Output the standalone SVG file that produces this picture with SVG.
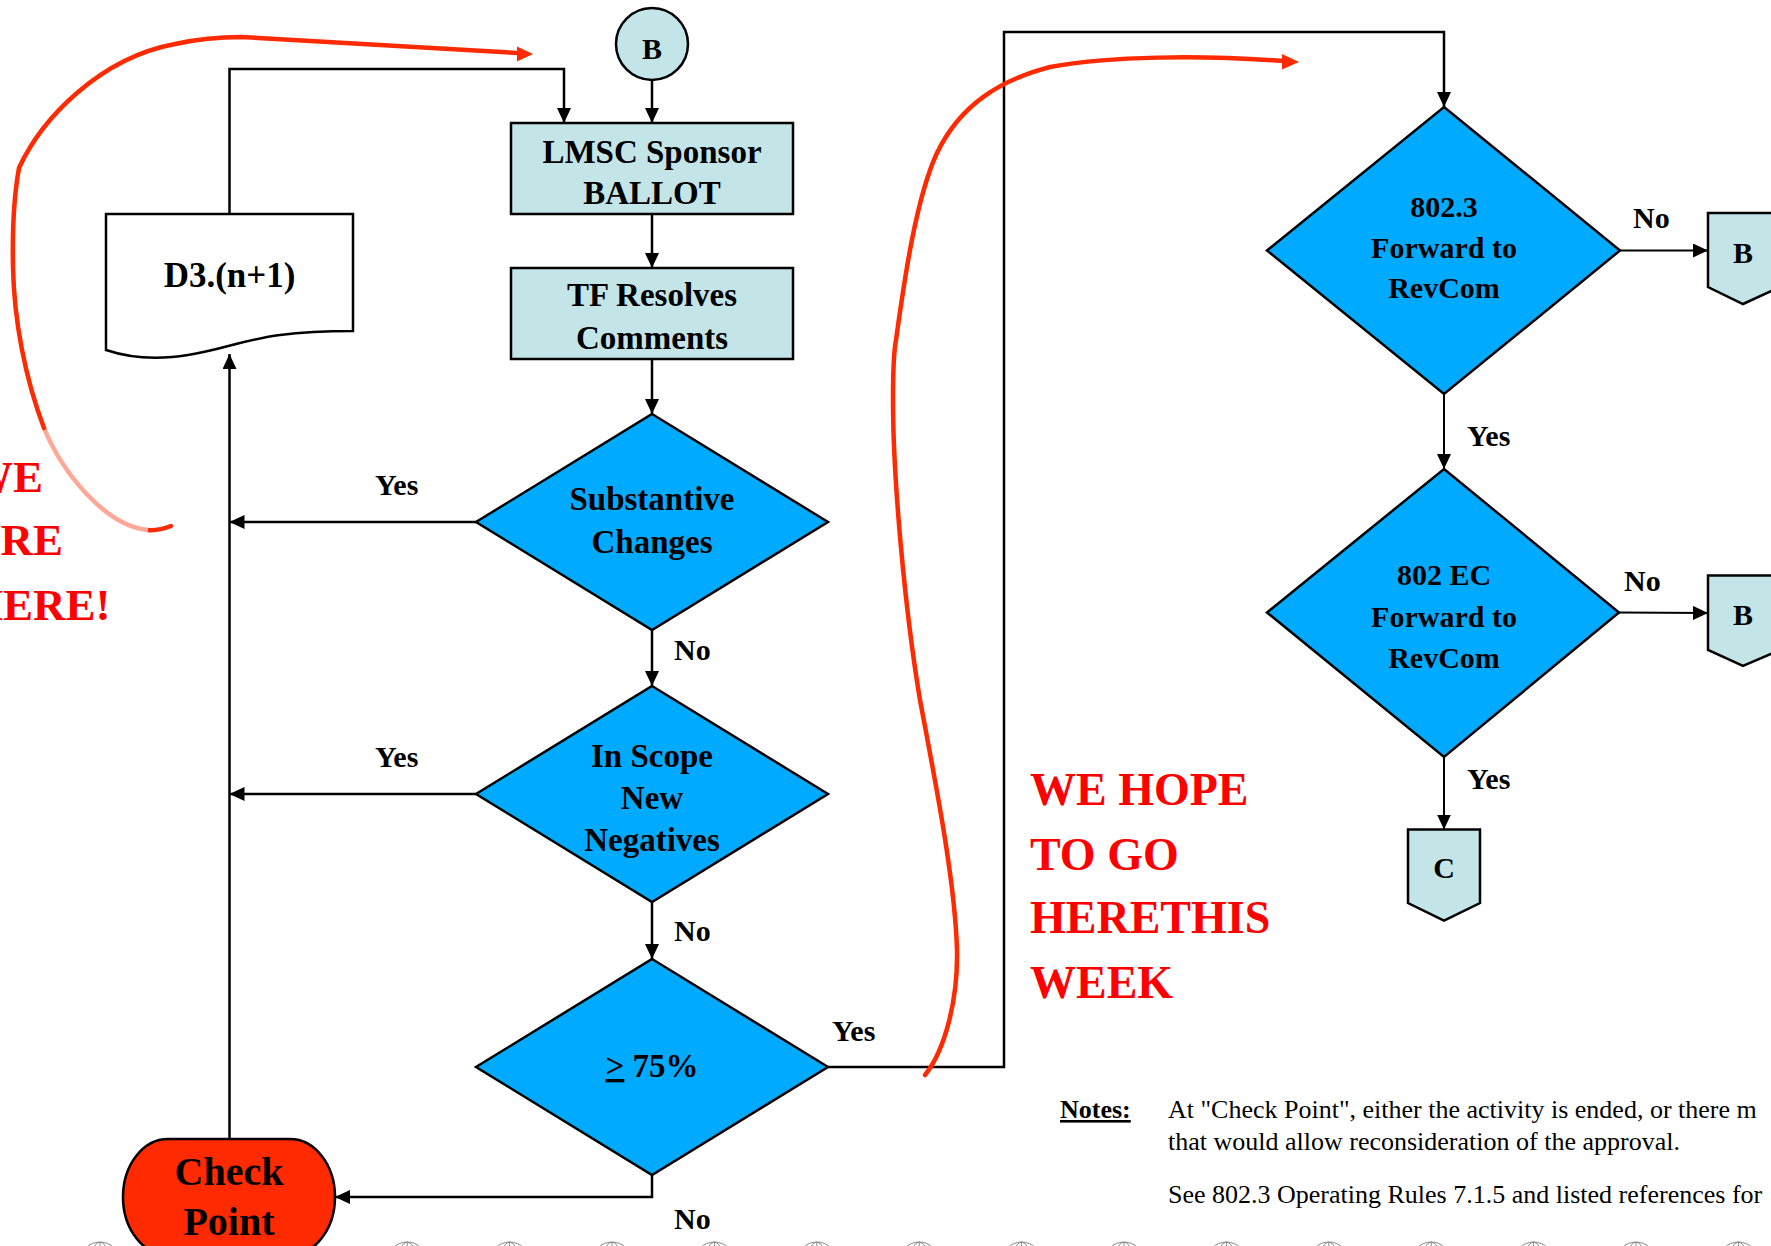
<svg xmlns="http://www.w3.org/2000/svg" width="1771" height="1246" viewBox="0 0 1771 1246">
<defs>
<style>
.t{font-family:"Liberation Serif","Times New Roman",serif;font-weight:bold;fill:#000}
.c{text-anchor:middle}
.box{fill:#C4E5E8;stroke:#000;stroke-width:2.5}
.dia{fill:#00AAFF;stroke:#000;stroke-width:2.5}
.ln{fill:none;stroke:#000;stroke-width:2.5}
.ln2{fill:none;stroke:#000;stroke-width:2}
.red{fill:none;stroke:#FF2A00;stroke-width:4.5;stroke-linecap:round}
.pale{fill:none;stroke:#FFA898;stroke-width:4.5}
.ann{font-family:"Liberation Serif","Times New Roman",serif;font-weight:bold;fill:#FF0000}
.note{font-family:"Liberation Serif","Times New Roman",serif;font-size:26px;fill:#000}
.lbl{font-size:30px}
.globe{fill:none;stroke:#8a8a8a;stroke-width:1}
</style>
<marker id="ah" markerUnits="userSpaceOnUse" markerWidth="15" markerHeight="14" refX="15" refY="7" orient="auto">
<path d="M0,0 L15,7 L0,14 Z" fill="#000"/>
</marker>
<g id="globeIcon">
<circle class="globe" cx="0" cy="0" r="20"/>
<ellipse class="globe" cx="0" cy="0" rx="9" ry="20"/>
<line class="globe" x1="0" y1="-20" x2="0" y2="20"/>
<line class="globe" x1="-20" y1="-8" x2="20" y2="-8"/>
</g>
</defs>
<rect x="0" y="0" width="1771" height="1246" fill="#fff"/>

<g id="footer-decor">
<use href="#globeIcon" x="100" y="1262"/>
<use href="#globeIcon" x="202.4" y="1262"/>
<use href="#globeIcon" x="304.8" y="1262"/>
<use href="#globeIcon" x="407.2" y="1262"/>
<use href="#globeIcon" x="509.6" y="1262"/>
<use href="#globeIcon" x="612" y="1262"/>
<use href="#globeIcon" x="714.4" y="1262"/>
<use href="#globeIcon" x="816.8" y="1262"/>
<use href="#globeIcon" x="919.2" y="1262"/>
<use href="#globeIcon" x="1021.6" y="1262"/>
<use href="#globeIcon" x="1124" y="1262"/>
<use href="#globeIcon" x="1226.4" y="1262"/>
<use href="#globeIcon" x="1328.8" y="1262"/>
<use href="#globeIcon" x="1431.2" y="1262"/>
<use href="#globeIcon" x="1533.6" y="1262"/>
<use href="#globeIcon" x="1636" y="1262"/>
<use href="#globeIcon" x="1738.4" y="1262"/>
</g>

<g id="connectors">
<path class="ln" d="M652,81 V123" marker-end="url(#ah)"/>
<path class="ln" d="M229.5,214 V69 H564 V123" marker-end="url(#ah)"/>
<path class="ln" d="M652,214 V268" marker-end="url(#ah)"/>
<path class="ln" d="M652,359 V414" marker-end="url(#ah)"/>
<path class="ln" d="M476,522 H229.5" marker-end="url(#ah)"/>
<path class="ln" d="M652,630 V686" marker-end="url(#ah)"/>
<path class="ln" d="M476,794 H229.5" marker-end="url(#ah)"/>
<path class="ln" d="M652,902 V959" marker-end="url(#ah)"/>
<path class="ln" d="M828,1067 H1004 V32 H1444 V107" marker-end="url(#ah)"/>
<path class="ln" d="M652,1175 V1197 H335" marker-end="url(#ah)"/>
<path class="ln" d="M229.5,1139 V354" marker-end="url(#ah)"/>
<path class="ln2" d="M1620,250.5 H1708" marker-end="url(#ah)"/>
<path class="ln2" d="M1444,394 V469" marker-end="url(#ah)"/>
<path class="ln2" d="M1619,612.5 L1708,613" marker-end="url(#ah)"/>
<path class="ln2" d="M1444,757 V829.5" marker-end="url(#ah)"/>
<g class="t lbl">
<text x="375" y="495">Yes</text>
<text x="375" y="767">Yes</text>
<text x="674" y="660">No</text>
<text x="674" y="941">No</text>
<text x="674" y="1229">No</text>
<text x="832" y="1041">Yes</text>
<text x="1633" y="228">No</text>
<text x="1467" y="446">Yes</text>
<text x="1624" y="591">No</text>
<text x="1467" y="789">Yes</text>
</g>
</g>

<g id="node-B-top">
<circle cx="652" cy="44" r="36" class="box"/>
<text class="t c" x="652" y="59" font-size="30">B</text>
</g>

<g id="node-lmsc">
<rect class="box" x="511" y="123" width="282" height="91"/>
<text class="t c" x="652" y="163" font-size="33">LMSC Sponsor</text>
<text class="t c" x="652" y="204" font-size="33">BALLOT</text>
</g>

<g id="node-tf">
<rect class="box" x="511" y="268" width="282" height="91"/>
<text class="t c" x="652" y="306" font-size="33">TF Resolves</text>
<text class="t c" x="652" y="349" font-size="33">Comments</text>
</g>

<g id="node-d3">
<path d="M106,214 H353 V331 C330,331 310,331 280,335 C240,340 210,354 172,357 C150,359 130,358 106,350 Z" fill="#fff" stroke="#000" stroke-width="2.5"/>
<text class="t c" x="229.5" y="287" font-size="35">D3.(n+1)</text>
</g>

<g id="node-substantive">
<polygon class="dia" points="652,414 828,522 652,630 476,522"/>
<text class="t c" x="652" y="510" font-size="33">Substantive</text>
<text class="t c" x="652" y="553" font-size="33">Changes</text>
</g>

<g id="node-inscope">
<polygon class="dia" points="652,686 828,794 652,902 476,794"/>
<text class="t c" x="652" y="767" font-size="33">In Scope</text>
<text class="t c" x="652" y="809" font-size="33">New</text>
<text class="t c" x="652" y="851" font-size="33">Negatives</text>
</g>

<g id="node-75">
<polygon class="dia" points="652,959 828,1067 652,1175 476,1067"/>
<text class="t c" x="652" y="1077" font-size="33"><tspan text-decoration="underline">&gt;</tspan> 75%</text>
</g>

<g id="node-checkpoint">
<rect x="123" y="1139" width="212" height="116" rx="45" ry="58" fill="#FF2A00" stroke="#000" stroke-width="2.5"/>
<text class="t c" x="229" y="1185" font-size="40">Check</text>
<text class="t c" x="229" y="1235" font-size="40">Point</text>
</g>

<g id="node-8023">
<polygon class="dia" points="1444,107 1620,250.5 1444,394 1267,250.5"/>
<text class="t c" x="1444" y="217" font-size="30">802.3</text>
<text class="t c" x="1444" y="258" font-size="30">Forward to</text>
<text class="t c" x="1444" y="298" font-size="30">RevCom</text>
</g>

<g id="node-B-right1">
<polygon class="box" points="1708,213 1780,213 1780,287 1743,304 1708,287"/>
<text class="t c" x="1743" y="263" font-size="30">B</text>
</g>

<g id="node-802ec">
<polygon class="dia" points="1444,469 1619,612.5 1444,757 1267,612.5"/>
<text class="t c" x="1444" y="585" font-size="30">802 EC</text>
<text class="t c" x="1444" y="627" font-size="30">Forward to</text>
<text class="t c" x="1444" y="668" font-size="30">RevCom</text>
</g>

<g id="node-B-right2">
<polygon class="box" points="1708,575.5 1780,575.5 1780,650 1743,666 1708,650"/>
<text class="t c" x="1743" y="625" font-size="30">B</text>
</g>

<g id="node-C">
<polygon class="box" points="1408,829.5 1480,829.5 1480,903 1444,920.5 1408,903"/>
<text class="t c" x="1444" y="878" font-size="30">C</text>
</g>

<g id="annotations">
<path class="red" d="M171,526 C163,529 155,531 148,530"/>
<path class="pale" d="M148,530 C105,526 62,472 44,428"/>
<path class="red" d="M44,428 C25,378 14,320 13,267 C12,220 15,190 19,168 C42,118 100,58 175,44 C198,39 218,37 241,37 L517,53"/>
<polygon points="517,46.5 533,54 517,61.5" fill="#FF2A00"/>
<path class="red" d="M925,1075 C945,1050 958,1000 957,950 C955,880 935,780 920,700 C905,610 893,480 893,400 C893,370 894,350 896,340 C903,290 915,200 937,153 C960,105 1000,80 1050,67 C1110,56 1200,55 1283,61"/>
<polygon points="1282,54 1299,62 1282,69.5" fill="#FF2A00"/>
<text class="ann" font-size="45" x="-32" y="492">WE</text>
<text class="ann" font-size="45" x="-32" y="555">ARE</text>
<text class="ann" font-size="45" x="-32" y="620">HERE!</text>
<text class="ann" font-size="46" x="1030" y="805">WE HOPE</text>
<text class="ann" font-size="46" x="1030" y="870">TO GO</text>
<text class="ann" font-size="46" x="1030" y="933">HERETHIS</text>
<text class="ann" font-size="46" x="1030" y="998">WEEK</text>
</g>

<g id="notes" font-family="Liberation Serif, Times New Roman, serif">
<text class="note" x="1060" y="1118" font-weight="bold" text-decoration="underline">Notes:</text>
<text class="note" x="1168" y="1118">At "Check Point", either the activity is ended, or there m</text>
<text class="note" x="1168" y="1150">that would allow reconsideration of the approval.</text>
<text class="note" x="1168" y="1203">See 802.3 Operating Rules 7.1.5 and listed references for</text>
</g>
</svg>
